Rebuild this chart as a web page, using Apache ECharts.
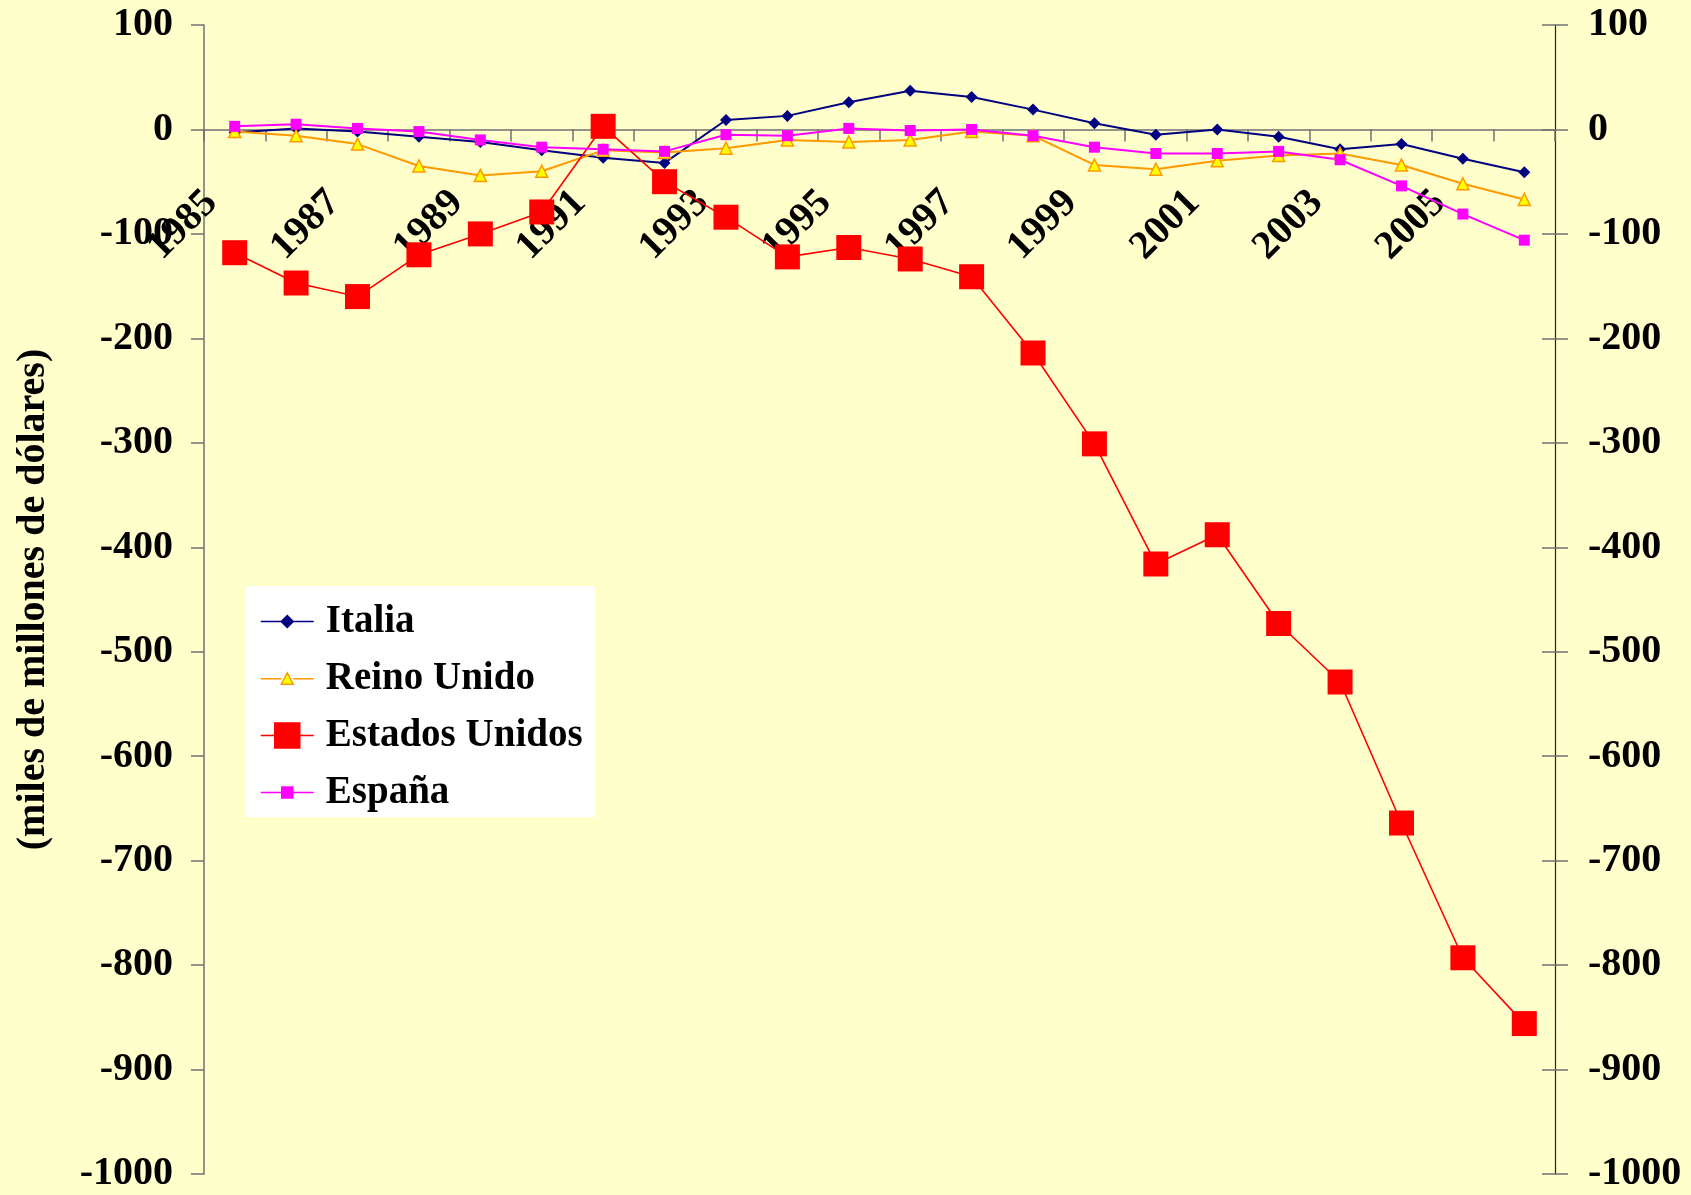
<!DOCTYPE html>
<html>
<head>
<meta charset="utf-8">
<script src="https://cdn.jsdelivr.net/npm/echarts@6/dist/echarts.min.js"></script>
<style>
  html, body { margin: 0; padding: 0; background: #FFFFCC; }
  #chart { width: 1691px; height: 1195px; }
</style>
</head>
<body>
<div id="chart"></div>
<script>
const years = ['1985', '1986', '1987', '1988', '1989', '1990', '1991', '1992', '1993', '1994', '1995',
  '1996', '1997', '1998', '1999', '2000', '2001', '2002', '2003', '2004', '2005', '2006'];
const italia = [-3, 1, -2, -7, -12, -20, -27, -32, 9, 13, 26, 37, 31, 19, 6, -5, 0, -7, -19, -14, -28, -41];
const reinoUnido = [-2, -6, -14, -35, -44, -40, -20, -22, -18, -10, -12, -10, -2, -6, -34, -38, -30, -25, -23, -34, -52, -67];
const estadosUnidos = [-118, -147, -160, -120, -100, -79, 3, -50, -84, -122, -113, -124, -141, -214, -301, -416, -388, -473, -529, -664, -793, -856];
const espana = [3, 5, 1, -2, -10, -17, -19, -21, -5, -6, 1, -1, 0, -6, -17, -23, -23, -21, -29, -54, -81, -106];

const font = "'Liberation Serif', 'Times New Roman', serif";

const chart = echarts.init(document.getElementById('chart'));

const gridTop = 25, gridBottom = 21, chartH = 1195;
const yMin = -1000, yMax = 100;
// distance from grid bottom up to the zero line, used to lift the label axis
const zeroLift = (chartH - gridTop - gridBottom) * (0 - yMin) / (yMax - yMin);

const yBase = {
  type: 'value',
  min: yMin,
  max: yMax,
  interval: 100,
  splitLine: { show: false }
};

const plainNumber = v => String(v);

chart.setOption({
  backgroundColor: '#FFFFCC',
  animation: false,
  textStyle: { fontFamily: font },
  grid: { left: 204, right: 136, top: gridTop, bottom: gridBottom, containLabel: false, outerBoundsMode: 'none' },
  legend: {
    left: 246,
    top: 586,
    orient: 'vertical',
    backgroundColor: '#ffffff',
    padding: [13, 12, 2, 14],
    itemGap: 12,
    itemWidth: 53,
    itemHeight: 25,
    symbolKeepAspect: true,
    textStyle: { fontSize: 39, fontWeight: 'bold', color: '#000', fontFamily: font, lineHeight: 45, padding: [0, 0, 0, 7] },
    data: [
      { name: 'Italia', icon: 'path://M0,12.5 H53 Z M26.5,6.5 L32.5,12.5 L26.5,18.5 L20.5,12.5 Z',
        itemStyle: { color: '#000080', borderColor: '#000080', borderWidth: 1.5 } },
      { name: 'Reino Unido', icon: 'path://M0,12.5 H20.5 Z M32.5,12.5 H53 Z M26.5,6.5 L32.5,18 L20.5,18 Z',
        itemStyle: { color: '#FFFF00', borderColor: '#FF9900', borderWidth: 1.5 } },
      { name: 'Estados Unidos', icon: 'path://M0,12.5 H53 Z M14,0 H39 V25 H14 Z',
        itemStyle: { color: '#FF0000', borderColor: '#FF0000', borderWidth: 1.5 } },
      { name: 'España', icon: 'path://M0,12.5 H53 Z M21,7 H32 V18 H21 Z',
        itemStyle: { color: '#FF00FF', borderColor: '#FF00FF', borderWidth: 1.5 } }
    ]
  },
  xAxis: [
    {
      type: 'category',
      data: years,
      boundaryGap: true,
      axisLine: { onZero: true, onZeroAxisIndex: 0, lineStyle: { color: '#707070', width: 1.5 } },
      axisTick: { show: true, interval: 0, length: 12, lineStyle: { color: '#707070', width: 1.5 } },
      axisLabel: { show: false }
    },
    {
      // label-only axis lifted to the zero line
      type: 'category',
      data: years,
      boundaryGap: true,
      position: 'bottom',
      offset: -zeroLift,
      axisLine: { show: false, onZero: false },
      axisTick: { show: false },
      axisLabel: {
        interval: 1,
        rotate: 45,
        margin: 44,
        padding: [0, 33, 0, 0],
        fontSize: 40,
        fontWeight: 'bold',
        color: '#000',
        fontFamily: font
      }
    }
  ],
  yAxis: [
    Object.assign({}, yBase, {
      position: 'left',
      name: '(miles de millones de dólares)',
      nameLocation: 'middle',
      nameRotate: 90,
      nameGap: 150,
      nameTextStyle: { fontSize: 40, fontWeight: 'bold', color: '#000', fontFamily: font },
      axisLine: { show: true, lineStyle: { color: '#707070', width: 1.5 } },
      axisTick: { show: true, length: 13, lineStyle: { color: '#707070', width: 1.5 } },
      axisLabel: { margin: 31, fontSize: 40, fontWeight: 'bold', color: '#000', fontFamily: font, formatter: plainNumber }
    }),
    Object.assign({}, yBase, {
      position: 'right',
      axisLine: { show: true, lineStyle: { color: '#222', width: 1.2 } },
      axisTick: { show: true, length: 13, lineStyle: { color: '#707070', width: 1.5 } },
      axisLabel: { margin: 33, fontSize: 40, fontWeight: 'bold', color: '#000', fontFamily: font, formatter: plainNumber }
    }),
    Object.assign({}, yBase, {
      position: 'right',
      axisLine: { show: false },
      axisTick: { show: true, inside: true, length: 13, lineStyle: { color: '#707070', width: 1.5 } },
      axisLabel: { show: false }
    })
  ],
  series: [
    {
      name: 'Italia',
      type: 'line',
      data: italia,
      symbol: 'diamond',
      symbolSize: 12,
      color: '#000080',
      lineStyle: { color: '#000080', width: 2 },
      itemStyle: { color: '#000080' }
    },
    {
      name: 'Reino Unido',
      type: 'line',
      data: reinoUnido,
      symbol: 'triangle',
      symbolSize: 12,
      color: '#FF9900',
      lineStyle: { color: '#FF9900', width: 2 },
      itemStyle: { color: '#FFFF00', borderColor: '#FF9900', borderWidth: 1.5 }
    },
    {
      name: 'Estados Unidos',
      type: 'line',
      data: estadosUnidos,
      symbol: 'rect',
      symbolSize: 25,
      color: '#FF0000',
      lineStyle: { color: '#FF0000', width: 1.6 },
      itemStyle: { color: '#FF0000' }
    },
    {
      name: 'España',
      type: 'line',
      data: espana,
      symbol: 'rect',
      symbolSize: 11,
      color: '#FF00FF',
      lineStyle: { color: '#FF00FF', width: 2 },
      itemStyle: { color: '#FF00FF' }
    }
  ]
});
</script>
</body>
</html>
